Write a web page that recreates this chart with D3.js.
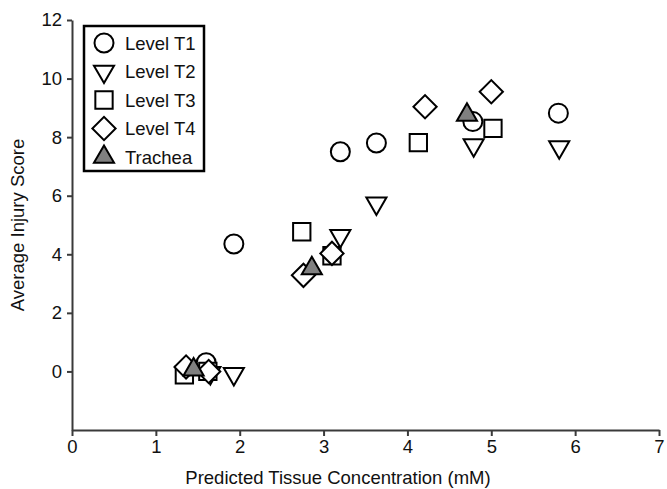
<!DOCTYPE html>
<html>
<head>
<meta charset="utf-8">
<script src="https://cdn.jsdelivr.net/npm/d3@7"></script>
<style>
  body { margin: 0; background: #fff; }
  text { font-family: "Liberation Sans", Arial, sans-serif; }
</style>
</head>
<body>
<div id="chart"></div>
<script>
// series values: [concentration, injury score]
var levelT1 = [[1.60, 0.30], [1.93, 4.35], [3.20, 7.50], [3.63, 7.80], [4.78, 8.53], [5.80, 8.82]];
var levelT2 = [[1.65, -0.05], [1.93, -0.08], [3.20, 4.63], [3.63, 5.74], [4.79, 7.73], [5.81, 7.66]];
var levelT3 = [[1.34, -0.12], [1.62, 0.00], [2.74, 4.77], [3.10, 3.95], [4.13, 7.81], [5.02, 8.30]];
var levelT4 = [[1.36, 0.15], [1.63, 0.00], [2.76, 3.28], [3.10, 4.03], [4.21, 9.04], [5.00, 9.55]];
var trachea = [[1.45, 0.06], [2.86, 3.52], [4.71, 8.76]];

var seriesNames = ["Level T1", "Level T2", "Level T3", "Level T4", "Trachea"];
var xTicks = [0, 1, 2, 3, 4, 5, 6, 7];
var yTicks = [0, 2, 4, 6, 8, 10, 12];

function init() {
    var w = 667;
    var h = 489;
    var margin = { top: 20, right: 8, bottom: 59, left: 72 };

    var svg = d3.select("#chart")
        .append("svg")
        .attr("width", w)
        .attr("height", h);

    var x = d3.scaleLinear().domain([0, 7]).range([margin.left, w - margin.right]);
    var y = d3.scaleLinear().domain([-2, 12]).range([h - margin.bottom, margin.top]);

    //marker shapes, one per series
    var circle = d3.symbol().type(d3.symbolCircle).size(Math.PI * 9.5 * 9.5)();
    var tri = d3.symbol().type(d3.symbolTriangle).size(175)();
    var square = d3.symbol().type(d3.symbolSquare).size(300)();
    var diamond = d3.symbol().type(d3.symbolSquare).size(270)();

    var styles = [
        { path: circle, rot: 0, fill: "#fff" },
        { path: tri, rot: 180, fill: "#fff" },
        { path: square, rot: 0, fill: "#fff" },
        { path: diamond, rot: 45, fill: "#fff" },
        { path: tri, rot: 0, fill: "#808080" }
    ];
    var allSeries = [levelT1, levelT2, levelT3, levelT4, trachea];

    //axes
    var xAxis = svg.append("g")
        .attr("transform", "translate(0," + y(-2) + ")")
        .call(d3.axisBottom(x).tickValues(xTicks).tickFormat(d3.format("d"))
            .tickSize(6).tickSizeOuter(0).tickPadding(4));
    var yAxis = svg.append("g")
        .attr("transform", "translate(" + x(0) + ",0)")
        .call(d3.axisLeft(y).tickValues(yTicks).tickFormat(d3.format("d"))
            .tickSize(5).tickSizeOuter(0).tickPadding(5));

    [xAxis, yAxis].forEach(function (g) {
        g.select(".domain").attr("stroke", "#3a3a3a").attr("stroke-width", 2);
        g.selectAll(".tick line").attr("stroke", "#3a3a3a").attr("stroke-width", 2);
        g.selectAll(".tick text")
            .attr("fill", "#111")
            .style("font-size", "18.5px")
            .style("font-family", "'Liberation Sans', Arial, sans-serif");
    });

    //points
    allSeries.forEach(function (data, i) {
        var st = styles[i];
        svg.append("g").selectAll("path")
            .data(data)
            .enter()
            .append("path")
            .attr("d", st.path)
            .attr("transform", function (d) {
                return "translate(" + x(d[0]) + "," + y(d[1]) + ") rotate(" + st.rot + ")";
            })
            .attr("fill", st.fill)
            .attr("stroke", "#000")
            .attr("stroke-width", 2);
    });

    //legend
    var legend = svg.append("g");
    legend.append("rect")
        .attr("x", 84)
        .attr("y", 26)
        .attr("width", 120)
        .attr("height", 145)
        .attr("fill", "#fff")
        .attr("stroke", "#000")
        .attr("stroke-width", 2.5);

    var rows = legend.selectAll(".row")
        .data(seriesNames)
        .enter()
        .append("g")
        .attr("transform", function (d, i) {
            return "translate(104," + (43 + i * 28.5) + ")";
        });
    rows.append("path")
        .attr("d", function (d, i) { return styles[i].path; })
        .attr("transform", function (d, i) { return "rotate(" + styles[i].rot + ")"; })
        .attr("fill", function (d, i) { return styles[i].fill; })
        .attr("stroke", "#000")
        .attr("stroke-width", 2);
    rows.append("text")
        .attr("x", 21)
        .attr("y", 6.5)
        .style("font-size", "18.5px")
        .attr("fill", "#111")
        .text(function (d) { return d; });

    //axis titles
    svg.append("text")
        .attr("x", 338)
        .attr("y", 484)
        .attr("text-anchor", "middle")
        .style("font-size", "18.5px")
        .attr("fill", "#111")
        .text("Predicted Tissue Concentration (mM)");

    svg.append("text")
        .attr("transform", "translate(24," + ((y(12) + y(-2)) / 2) + ") rotate(-90)")
        .attr("text-anchor", "middle")
        .style("font-size", "18.5px")
        .attr("fill", "#111")
        .text("Average Injury Score");
}
window.onload = init;
</script>
</body>
</html>
